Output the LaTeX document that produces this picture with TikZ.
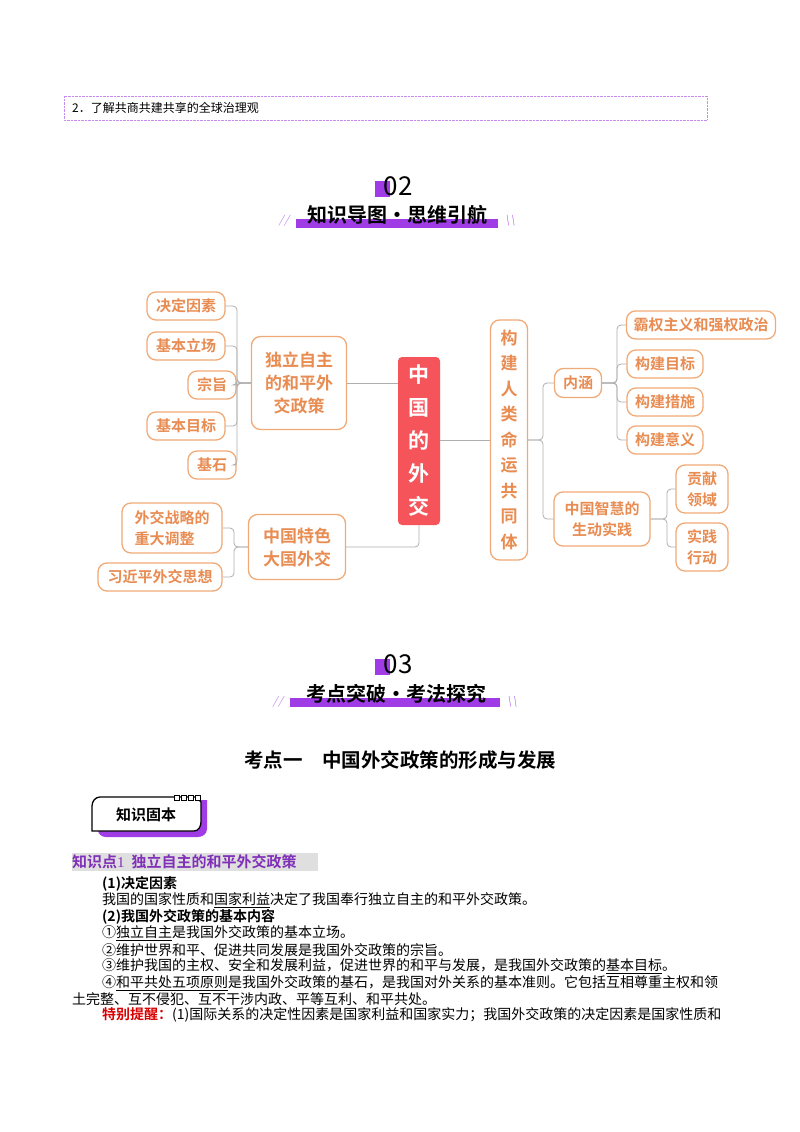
\documentclass[tikz,border=0pt]{standalone}
\usepackage{fontspec}
\setmainfont{Liberation Serif}
\newfontfamily\cjk{Noto Sans CJK SC}
\newfontfamily\cjkb{Noto Sans CJK SC Bold}
\definecolor{org}{RGB}{232,140,82}
\definecolor{orgb}{RGB}{240,170,120}
\definecolor{redb}{RGB}{244,84,90}
\definecolor{purp}{RGB}{160,60,230}
\definecolor{gline}{RGB}{175,175,175}
\tikzset{
 mm/.style={draw=orgb,line width=1.3pt,rounded corners=9pt,fill=white,text=org,font=\cjkb\fontsize{15}{17}\selectfont,inner sep=3pt,align=center,minimum height=28pt},
 mmbig/.style={mm,font=\cjkb\fontsize{17}{23}\selectfont},
 conn/.style={draw=gline,line width=0.8pt,rounded corners=4pt},
 body/.style={anchor=west,font=\cjk\fontsize{14}{15}\selectfont,inner sep=0pt},
}
\begin{document}
\begin{tikzpicture}[x=1pt,y=-1pt]
\useasboundingbox (0,0) rectangle (800,1132);
\fill[white] (0,0) rectangle (800,1132);
% top box
\draw[purp!60,densely dotted] (64,96) rectangle (707,120);
\node[body,font=\cjk\fontsize{12}{13}\selectfont] (obj) at (72,108) {2．了解共商共建共享的全球治理观};
% header 02
\fill[purp] (375,181) rectangle (390,197);
\node[font=\cjk\fontsize{26}{28}\selectfont] (n02) at (398,186) {02};
\fill[purp] (296,219) rectangle (498,228);
\node[font=\cjkb\fontsize{20}{22}\selectfont] (t02) at (397,215) {知识导图·思维引航};
\node[text=purp,font=\sffamily\itshape\fontsize{11}{12}\selectfont] (s1) at (284,221) {//};
\node[text=purp,font=\sffamily\itshape\fontsize{11}{12}\selectfont] (s2) at (510,221) {\textbackslash\textbackslash};
% mind map
\node[mm,minimum width=78pt] (a1) at (186,306) {决定因素};
\node[mm,minimum width=78pt] (a2) at (186,346) {基本立场};
\node[mm,minimum width=48pt] (a3) at (212,385) {宗旨};
\node[mm,minimum width=78pt] (a4) at (186,426) {基本目标};
\node[mm,minimum width=48pt] (a5) at (212,465) {基石};
\node[mmbig,minimum width=95pt,minimum height=93pt] (A) at (299,383) {独立自主\\的和平外\\交政策};
\node[draw=none,fill=redb,rounded corners=4pt,text=white,font=\cjkb\fontsize{21}{33}\selectfont,align=center,minimum width=42pt,minimum height=168pt] (R) at (419,441) {中\\国\\的\\外\\交};
\node[mm,minimum width=100pt,minimum height=50pt,font=\cjkb\fontsize{15}{21}\selectfont,align=left] (b1) at (172,528) {外交战略的\\重大调整};
\node[mm,minimum width=124pt] (b2) at (160,577) {习近平外交思想};
\node[mmbig,minimum width=97pt,minimum height=65pt] (B) at (297,547) {中国特色\\大国外交};
\node[mm,minimum width=37pt,minimum height=240pt,font=\cjkb\fontsize{17}{25.5}\selectfont] (C) at (509,440) {构\\建\\人\\类\\命\\运\\共\\同\\体};
\node[mm,minimum width=47pt,minimum height=29pt] (c1) at (578,383) {内涵};
\node[mm,minimum width=96pt,minimum height=54pt,font=\cjkb\fontsize{15}{21}\selectfont] (c2) at (602,519) {中国智慧的\\生动实践};
\node[mm,minimum width=149pt] (d1) at (701,325) {霸权主义和强权政治};
\node[mm,minimum width=76pt] (d2) at (665,364) {构建目标};
\node[mm,minimum width=76pt] (d3) at (665,402) {构建措施};
\node[mm,minimum width=76pt] (d4) at (665,440) {构建意义};
\node[mm,minimum width=52pt,minimum height=48pt,font=\cjkb\fontsize{15}{21}\selectfont] (e1) at (702,489) {贡献\\领域};
\node[mm,minimum width=52pt,minimum height=48pt,font=\cjkb\fontsize{15}{21}\selectfont] (e2) at (702,547) {实践\\行动};
\foreach \n in {a1,a2,a3,a4,a5}{\draw[conn] (A.west) -- (237,383) |- (\n.east);}
\draw[conn] (A.east) -- (R.west|-A.east);
\foreach \n in {b1,b2}{\draw[conn] (B.west) -- (234,547) |- (\n.east);}
\draw[conn] (R.south) |- (B.east);
\draw[conn] (R.east|-C.west) -- (C.west);
\foreach \n in {c1,c2}{\draw[conn] (C.east) -- (543,440) |- (\n.west);}
\foreach \n in {d1,d2,d3,d4}{\draw[conn] (c1.east) -- (617,383) |- (\n.west);}
\foreach \n in {e1,e2}{\draw[conn] (c2.east) -- (667,519) |- (\n.west);}
% header 03
\fill[purp] (375,659) rectangle (390,675);
\node[font=\cjk\fontsize{26}{28}\selectfont] (n03) at (398,664) {03};
\fill[purp] (290,698) rectangle (500,707);
\node[font=\cjkb\fontsize{20}{22}\selectfont] (t03) at (396,694) {考点突破·考法探究};
\node[text=purp,font=\sffamily\itshape\fontsize{11}{12}\selectfont] (s3) at (278,702) {//};
\node[text=purp,font=\sffamily\itshape\fontsize{11}{12}\selectfont] (s4) at (512,702) {\textbackslash\textbackslash};
\node[font=\cjkb\fontsize{19.5}{22}\selectfont] (h1) at (400,760) {考点一\quad 中国外交政策的形成与发展};
% badge
\fill[purp] (98,803) -- (98,830) to[out=-90,in=180] (106,837) -- (198,837) to[out=0,in=-90] (207,829) -- (207,800) -- cycle;
\draw[line width=1.3pt,fill=white] (92,806) to[out=90,in=180] (100,797) -- (196,797) -- (201,802) -- (201,822) to[out=-90,in=0] (194,831) -- (92,831) -- cycle;
\foreach \x in {174,181,188,195}{\draw[line width=1pt,fill=white] (\x,795) rectangle (\x+5,800);}
\node[font=\cjkb\fontsize{15}{17}\selectfont] (bd) at (146,815) {知识固本};
% knowledge point
\fill[gray!25] (72,853) rectangle (318,871);
\node[body,text=purp!80!black,font=\cjkb\fontsize{15}{16}\selectfont] (kp) at (72,862) {知识点\textrm{1}\ \ 独立自主的和平外交政策};
\node[body,font=\cjkb\fontsize{14}{15}\selectfont] (l1) at (102,884) {(1)决定因素};
\node[body] (l2) at (102,900) {我国的国家性质和\underline{国家利益}决定了我国奉行独立自主的和平外交政策。};
\node[body,font=\cjkb\fontsize{14}{15}\selectfont] (l3) at (102,917) {(2)我国外交政策的基本内容};
\node[body] (l4) at (102,933) {①\underline{独立自主}是我国外交政策的基本立场。};
\node[body] (l5) at (102,950) {②维护世界和平、促进共同发展是我国外交政策的宗旨。};
\node[body] (l6) at (102,966) {③维护我国的主权、安全和发展利益，促进世界的和平与发展，是我国外交政策的\underline{基本目标}。};
\node[body] (l7) at (102,983) {④\underline{和平共处五项原则}是我国外交政策的基石，是我国对外关系的基本准则。它包括互相尊重主权和领};
\node[body] (l8) at (72,999) {土完整、互不侵犯、互不干涉内政、平等互利、和平共处。};
\node[body] (l9) at (102,1015) {\textcolor{red!85!black}{\cjkb 特别提醒：}(1)国际关系的决定性因素是国家利益和国家实力；我国外交政策的决定因素是国家性质和};
\end{tikzpicture}
\end{document}
